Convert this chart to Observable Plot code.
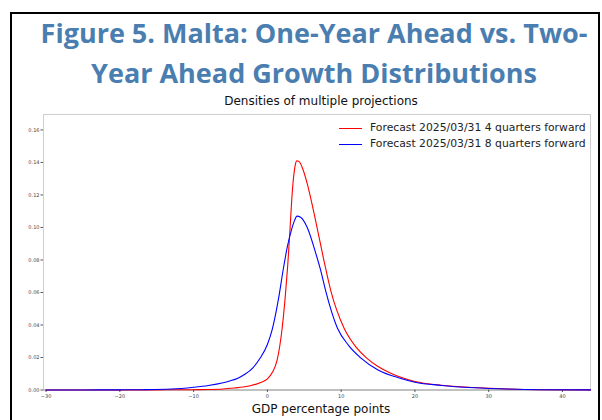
<!DOCTYPE html>
<html>
<head>
<meta charset="utf-8">
<script src="https://cdn.jsdelivr.net/npm/d3@7"></script>
<script src="https://cdn.jsdelivr.net/npm/@observablehq/plot@0.6"></script>
<style>
  html, body { margin: 0; padding: 0; background: #fff; }
  body { width: 602px; height: 420px; overflow: hidden; position: relative; font-family: "DejaVu Sans", sans-serif; }
  #box { position: absolute; left: 10px; top: 12px; width: 586px; height: 440px; border: 2px solid #000; border-bottom: none; }
  #title { position: absolute; left: 14px; width: 600px; top: 12.5px; text-align: center;
           font-family: "Open Sans", sans-serif; font-weight: 700; font-size: 27px; line-height: 40px; color: #4a7eb0; }
  #subtitle { position: absolute; left: 21px; width: 600px; top: 93px; text-align: center; font-size: 12px; line-height: 16px; color: #111; }
  #chart { position: absolute; left: 0; top: 108px; }
  #xlabel { position: absolute; left: 21px; width: 600px; top: 401px; text-align: center; font-size: 12px; line-height: 16px; color: #111; }
  .leg { position: absolute; left: 339px; height: 14px; font-size: 10.8px; line-height: 14px; color: #222; white-space: nowrap; }
  .leg span.sw { position: absolute; left: 0; top: 6.5px; width: 23px; height: 0; border-top: 1.2px solid; }
  .leg span.tx { position: absolute; left: 31px; top: 0; }
</style>
</head>
<body>
<div id="box"></div>
<div id="title">Figure 5. Malta: One-Year Ahead vs. Two-<br>Year Ahead Growth Distributions</div>
<div id="subtitle">Densities of multiple projections</div>
<div id="chart"></div>
<div id="legend"></div>
<div id="xlabel">GDP percentage points</div>
<script>
// Density of GDP growth outcomes (percentage points), two forecast horizons
const seriesNames = ["Forecast 2025/03/31 4 quarters forward", "Forecast 2025/03/31 8 quarters forward"];
const seriesColors = ["#ff0000", "#0000ff"];

// 4 quarters forward
const gdp4 = [-30, -25, -20, -15, -10, -8, -6, -4.5, -3.3, -2.3, -1, 0, 0.7, 1.3, 2.0, 2.45, 2.76, 3.03, 3.36, 3.6, 3.8, 4.0, 4.3, 4.8, 5.4, 6.5, 7.6, 8.6, 10.4, 12, 13.5, 15, 16.8, 18.1, 20, 23.6, 28, 32.6, 37, 43.8];
const dens4 = [0, 0, 0.00003, 0.0001, 0.0002, 0.0003, 0.0006, 0.0012, 0.0018, 0.0026, 0.0045, 0.0068, 0.011, 0.018, 0.038, 0.059, 0.077, 0.096, 0.121, 0.133, 0.139, 0.141, 0.1405, 0.136, 0.127, 0.105, 0.081, 0.061, 0.038, 0.0265, 0.0195, 0.0145, 0.0102, 0.0078, 0.0052, 0.0029, 0.0015, 0.0006, 0.0002, 0.00005];

// 8 quarters forward
const gdp8 = [-30, -25, -20, -17, -13, -10, -8, -6, -5, -4, -3, -2, -1, 0, 0.64, 1.54, 2.14, 2.7, 3.36, 3.7, 4.0, 4.5, 5.4, 6.5, 7.2, 7.9, 9.5, 11, 12.65, 15, 18.1, 20, 23.6, 28, 32.6, 37, 43.8];
const dens8 = [0, 0.00003, 0.0001, 0.0002, 0.0006, 0.0017, 0.0028, 0.0045, 0.0057, 0.0073, 0.0098, 0.0135, 0.0195, 0.028, 0.037, 0.057, 0.074, 0.088, 0.1, 0.1045, 0.107, 0.1063, 0.1, 0.085, 0.074, 0.061, 0.038, 0.0275, 0.0198, 0.0123, 0.0071, 0.0048, 0.0028, 0.0014, 0.0006, 0.0002, 0.00005];

const xTicks = [-30, -20, -10, 0, 10, 20, 30, 40];
const yTicks = [0, 0.02, 0.04, 0.06, 0.08, 0.10, 0.12, 0.14, 0.16];

const rows = [
  ...gdp4.map((x, i) => ({x, y: dens4[i], s: seriesNames[0]})),
  ...gdp8.map((x, i) => ({x, y: dens8[i], s: seriesNames[1]}))
];

const minus = d => (d < 0 ? "\u2212" + (-d) : String(d));

const chart = Plot.plot({
  width: 602,
  height: 312,
  marginLeft: 43,
  marginRight: 12,
  marginTop: 6,
  marginBottom: 30.5,
  style: {fontFamily: "DejaVu Sans, sans-serif", fontSize: "5px", color: "#444", background: "transparent"},
  x: {domain: [-30.35, 43.8]},
  y: {domain: [0, 0.1695]},
  color: {domain: seriesNames, range: seriesColors},
  marks: [
    Plot.frame({stroke: "#cfcfcf"}),
    Plot.ruleY([0], {stroke: "#999"}),
    Plot.axisX({ticks: xTicks, tickFormat: minus, tickSize: 2.5, tickPadding: 1.5, label: null, stroke: "#555"}),
    Plot.axisY({ticks: yTicks, tickFormat: d3.format(".2f"), tickSize: 2.5, tickPadding: 1.5, label: null, stroke: "#555"}),
    Plot.line(rows, {x: "x", y: "y", z: "s", stroke: "s", strokeWidth: 1.1, curve: "monotone-x"})
  ]
});
document.getElementById("chart").appendChild(chart);

// legend in the upper right of the axes
const legend = document.getElementById("legend");
seriesNames.forEach((name, i) => {
  const row = document.createElement("div");
  row.className = "leg";
  row.style.top = (121 + i * 16) + "px";
  row.innerHTML = `<span class="sw" style="border-color:${seriesColors[i]}"></span><span class="tx"></span>`;
  row.querySelector(".tx").textContent = name;
  legend.appendChild(row);
});
</script>
</body>
</html>
